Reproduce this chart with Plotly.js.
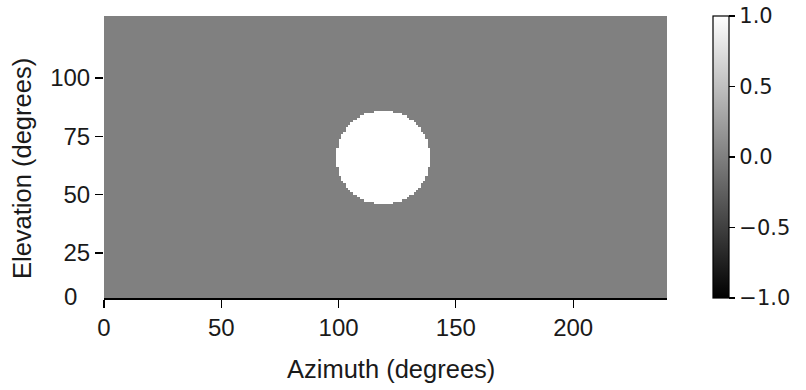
<!DOCTYPE html>
<html>
<head>
<meta charset="utf-8">
<script src="https://cdn.plot.ly/plotly-3.0.1.min.js"></script>
<style>html,body{margin:0;padding:0;background:#fff;}#chart{width:806px;height:390px;}</style>
</head>
<body>
<div id="chart"></div>
<script>
// Grid size (1-degree cells)
const nAzimuth = 240;
const nElevation = 127;
const backgroundValue = 0;
const diskValue = 1;
// Disk rows (elevation cell index) and their azimuth spans [start, end)
const diskRows  = [46,47,48,49,50,51,52,53,54,55,56,57,58,59,60,61,62,63,64,65,66,67,68,69,70,71,72,73,74,75,76,77,78,79,80,81,82,83,84,85];
const diskStart = [115,111,109,108,106,105,104,103,103,102,101,101,100,100,100,100,99,99,99,99,99,99,99,99,100,100,100,100,101,101,102,103,103,104,105,106,108,109,111,115];
const diskEnd   = [123,127,129,130,132,133,134,135,135,136,137,137,138,138,138,138,139,139,139,139,139,139,139,139,138,138,138,138,137,137,136,135,135,134,133,132,130,129,127,123];
// Tick labels and titles
const xTickVals = [0,50,100,150,200];
const yTickVals = [25,50,75,100];
const yBottomLabel = "0";
const cbTickVals = [-1,-0.5,0,0.5,1];
const cbTickText = ["\u22121.0","\u22120.5","0.0","0.5","1.0"];
const xTitle = "Azimuth (degrees)";
const yTitle = "Elevation (degrees)";

const z = [];
for (let r = 0; r < nElevation; r++) {
  const row = new Array(nAzimuth).fill(backgroundValue);
  const k = diskRows.indexOf(r);
  if (k >= 0) for (let c = diskStart[k]; c < diskEnd[k]; c++) row[c] = diskValue;
  z.push(row);
}

const axFont = {family: "Liberation Sans, Arial, sans-serif", size: 24, color: "#1a1a1a"};
const titleFont = {family: "Liberation Sans, Arial, sans-serif", size: 25.5, color: "#1a1a1a"};

const trace = {
  type: "heatmap", z: z, x0: 0.5, dx: 1, y0: 0.5, dy: 1,
  zmin: -1, zmax: 1, zsmooth: false,
  colorscale: [[0, "#000000"], [1, "#ffffff"]],
  hoverinfo: "skip",
  colorbar: {
    x: (713-104)/563, xanchor: "left", xref: "paper", xpad: 0,
    y: 0.5, yanchor: "middle", ypad: 0, len: 1.0, lenmode: "fraction",
    thickness: 16, outlinecolor: "#000", outlinewidth: 1.2,
    tickvals: cbTickVals, ticktext: cbTickText,
    ticks: "outside", ticklen: 6, tickwidth: 1.2, tickcolor: "#000",
    tickfont: {family: "DejaVu Sans, sans-serif", size: 21, color: "#1a1a1a"}
  }
};

const layout = {
  width: 806, height: 390,
  margin: {l: 104, r: 139, t: 16, b: 92, pad: 0},
  paper_bgcolor: "#fff", plot_bgcolor: "#808080",
  xaxis: {
    range: [0, 240], tickvals: xTickVals, ticks: "outside", ticklen: 8, tickwidth: 1.2, tickcolor: "#000",
    showline: true, linecolor: "#000", linewidth: 1.5, showgrid: false, zeroline: false,
    tickfont: axFont
  },
  yaxis: {
    range: [5.7, 126.6], tickvals: yTickVals, ticks: "outside", ticklen: 8, tickwidth: 1.2, tickcolor: "#000",
    showline: false, showgrid: false, zeroline: false,
    tickfont: axFont
  },
  annotations: [
    {text: yBottomLabel, xref: "paper", yref: "paper", x: 0, y: 0,
     xanchor: "right", yanchor: "middle", xshift: -25, yshift: 2,
     showarrow: false, font: axFont},
    {text: xTitle, xref: "paper", yref: "paper", x: (391-104)/563, y: (298-369)/282,
     xanchor: "center", yanchor: "middle", showarrow: false, font: titleFont},
    {text: yTitle, xref: "paper", yref: "paper", x: 0, y: (298-169)/282, xshift: -82,
     xanchor: "center", yanchor: "middle", textangle: -90, showarrow: false, font: titleFont}
  ]
};

Plotly.newPlot("chart", [trace], layout, {displayModeBar: false, staticPlot: true});
</script>
</body>
</html>
